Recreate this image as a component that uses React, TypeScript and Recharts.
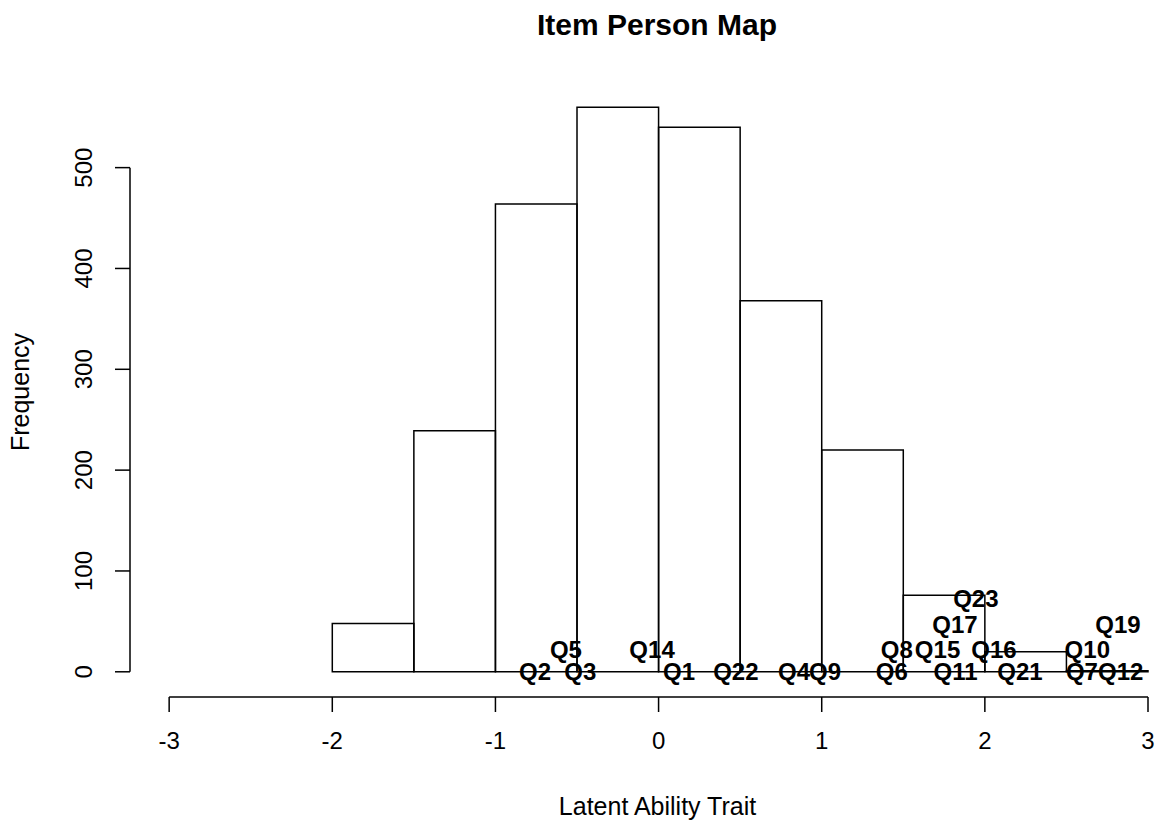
import React from 'react';
import { ComposedChart, XAxis, YAxis, Scatter, ReferenceArea, ReferenceLine } from 'recharts';

// Histogram of person abilities
const binEdges = [-2, -1.5, -1, -0.5, 0, 0.5, 1, 1.5, 2, 2.5, 3];
const binCounts = [48, 239, 464, 560, 540, 368, 220, 76, 20, 1];

// Item difficulty labels
const itemNames = ['Q2', 'Q3', 'Q5', 'Q14', 'Q1', 'Q22', 'Q4', 'Q9', 'Q6', 'Q8', 'Q15', 'Q11', 'Q17', 'Q23', 'Q16', 'Q21', 'Q10', 'Q19', 'Q7', 'Q12'];
const itemLocations = [-0.757, -0.48, -0.568, -0.04, 0.126, 0.474, 0.83, 1.02, 1.43, 1.46, 1.71, 1.82, 1.817, 1.945, 2.056, 2.215, 2.628, 2.816, 2.595, 2.833];
const itemLevels = [0, 0, 22, 22, 0, 0, 0, 0, 0, 22, 22, 0, 47, 73, 22, 0, 22, 47, 0, 0];

const xTicks = [-3, -2, -1, 0, 1, 2, 3];
const yTicks = [0, 100, 200, 300, 400, 500];

const title = 'Item Person Map';
const xLabel = 'Latent Ability Trait';
const yLabel = 'Frequency';

const FONT = '"Liberation Sans", Arial, Helvetica, sans-serif';
const INK = '#000';

const XTick = (props: any) => (
  <text x={props.x} y={props.y + 35} textAnchor="middle" fontSize={24} fontFamily={FONT} fill={INK}>
    {props.payload.value}
  </text>
);

const YTick = (props: any) => (
  <text
    x={0}
    y={0}
    transform={`translate(${props.x - 21},${props.y}) rotate(-90)`}
    textAnchor="middle"
    fontSize={24}
    fontFamily={FONT}
    fill={INK}
  >
    {props.payload.value}
  </text>
);

const ItemLabel = (props: any) => {
  const name = props.payload?.name ?? props.name;
  return (
    <text
      x={props.cx}
      y={props.cy}
      dy="0.36em"
      textAnchor="middle"
      fontSize={24}
      fontWeight="bold"
      fontFamily={FONT}
      fill={INK}
    >
      {name}
    </text>
  );
};

export default function App() {
  const items = itemNames.map((name, i) => ({ name, x: itemLocations[i], y: itemLevels[i] }));
  const bins = binCounts.map((count, i) => ({ x1: binEdges[i], x2: binEdges[i + 1], count }));
  return (
    <div style={{ position: 'absolute', left: 0, top: 0, width: 1162, height: 827, background: '#fff', fontFamily: FONT }}>
      <ComposedChart width={1162} height={827} margin={{ top: 92, right: 14, bottom: 0, left: 0 }} data={items}>
        <XAxis
          type="number"
          dataKey="x"
          domain={[-3.24, 3]}
          ticks={xTicks}
          interval={0}
          height={130}
          axisLine={false}
          tickSize={15}
          tickLine={{ stroke: INK, strokeWidth: 1.5 }}
          tick={XTick}
          allowDataOverflow
        />
        <YAxis
          type="number"
          dataKey="y"
          domain={[-25, 575]}
          ticks={yTicks}
          interval={0}
          width={130}
          axisLine={false}
          tickSize={15}
          tickLine={{ stroke: INK, strokeWidth: 1.5 }}
          tick={YTick}
          allowDataOverflow
        />
        {bins.map((b, i) => (
          <ReferenceArea
            key={i}
            x1={b.x1}
            x2={b.x2}
            y1={0}
            y2={b.count}
            fill="none"
            fillOpacity={0}
            stroke={INK}
            strokeOpacity={1}
            strokeWidth={1.5}
            ifOverflow="visible"
          />
        ))}
        <ReferenceLine
          segment={[{ x: xTicks[0], y: -25 }, { x: xTicks[xTicks.length - 1], y: -25 }]}
          stroke={INK}
          strokeWidth={1.5}
          ifOverflow="visible"
        />
        <ReferenceLine
          segment={[{ x: -3.24, y: yTicks[0] }, { x: -3.24, y: yTicks[yTicks.length - 1] }]}
          stroke={INK}
          strokeWidth={1.5}
          ifOverflow="visible"
        />
        <Scatter data={items} dataKey="y" isAnimationActive={false} shape={ItemLabel} />
      </ComposedChart>
      <svg width={1162} height={827} style={{ position: 'absolute', left: 0, top: 0, pointerEvents: 'none' }}>
        <text x={657} y={35} textAnchor="middle" fontSize={30} fontWeight="bold" fontFamily={FONT} fill={INK}>
          {title}
        </text>
        <text x={657.5} y={815} textAnchor="middle" fontSize={25} fontFamily={FONT} fill={INK}>
          {xLabel}
        </text>
        <text x={0} y={0} transform="translate(29,392) rotate(-90)" textAnchor="middle" fontSize={25} fontFamily={FONT} fill={INK}>
          {yLabel}
        </text>
      </svg>
    </div>
  );
}
